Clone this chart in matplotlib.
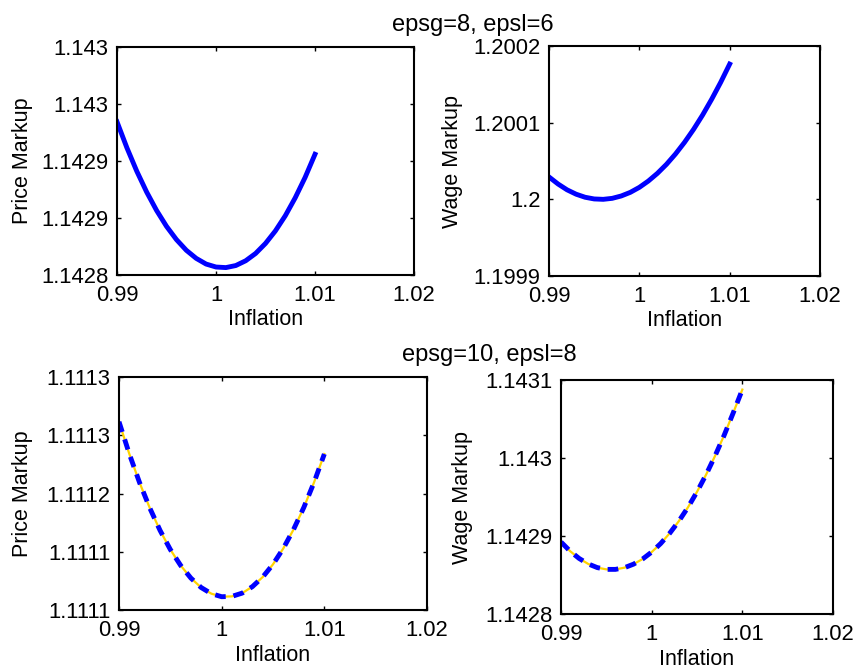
"""
markup vs inflation, two calibrations
"""
import matplotlib
matplotlib.use('Agg')
import matplotlib.pyplot as plt

plt.rcParams['font.family'] = ['Liberation Sans', 'DejaVu Sans']

# inflation grid
inflation = [0.990, 0.991, 0.992, 0.993, 0.994, 0.995, 0.996, 0.997, 0.998, 0.999, 1.000,
             1.001, 1.002, 1.003, 1.004, 1.005, 1.006, 1.007, 1.008, 1.009, 1.010]

# epsg=8, epsl=6
price_8 = [1.1429344, 1.1429116, 1.1428910, 1.1428727, 1.1428566, 1.1428427, 1.1428311,
           1.1428217, 1.1428146, 1.1428096, 1.1428070, 1.1428065, 1.1428083, 1.1428125,
           1.1428189, 1.1428277, 1.1428387, 1.1428520, 1.1428677, 1.1428856, 1.1429059]
wage_6 = [1.2000292, 1.2000200, 1.2000124, 1.2000067, 1.2000027, 1.2000005, 1.2000000,
          1.2000013, 1.2000044, 1.2000091, 1.2000156, 1.2000239, 1.2000339, 1.2000456,
          1.2000591, 1.2000743, 1.2000912, 1.2001099, 1.2001304, 1.2001525, 1.2001764]

# epsg=10, epsl=8
price_10 = [1.1112616, 1.1112341, 1.1112094, 1.1111875, 1.1111683, 1.1111519, 1.1111383,
            1.1111274, 1.1111193, 1.1111140, 1.1111114, 1.1111117, 1.1111145, 1.1111201,
            1.1111283, 1.1111392, 1.1111528, 1.1111691, 1.1111880, 1.1112096, 1.1112339]
wage_8 = [1.1428923, 1.1428806, 1.1428712, 1.1428642, 1.1428595, 1.1428572, 1.1428572,
          1.1428594, 1.1428639, 1.1428705, 1.1428794, 1.1428904, 1.1429037, 1.1429191,
          1.1429367, 1.1429566, 1.1429786, 1.1430029, 1.1430293, 1.1430580, 1.1430877]

x_ticks = [0.99, 1.00, 1.01, 1.02]
x_labels = ['0.99', '1', '1.01', '1.02']

yt_tl = [1.14280, 1.14285, 1.14290, 1.14295, 1.14300]
yl_tl = ['1.1428', '1.1429', '1.1429', '1.143', '1.143']
yt_tr = [1.1999, 1.2000, 1.2001, 1.2002]
yl_tr = ['1.1999', '1.2', '1.2001', '1.2002']
yt_bl = [1.11110, 1.11115, 1.11120, 1.11125, 1.11130]
yl_bl = ['1.1111', '1.1111', '1.1112', '1.1113', '1.1113']
yt_br = [1.1428, 1.1429, 1.1430, 1.1431]
yl_br = ['1.1428', '1.1429', '1.143', '1.1431']

W, H = 858, 670
fig = plt.figure(figsize=(W / 100, H / 100), dpi=100)


def box(l, r, t, b):
    return [l / W, (H - b) / H, (r - l) / W, (b - t) / H]


def setup(ax, yt, yl, ylabel, ylab_x):
    ax.set_xlim(0.99, 1.02)
    ax.set_ylim(yt[0], yt[-1])
    ax.set_xticks(x_ticks)
    ax.set_xticklabels(x_labels)
    ax.set_yticks(yt)
    ax.set_yticklabels(yl)
    ax.tick_params(direction='in', top=True, right=True, length=3, width=1,
                   labelsize=15.8)
    ax.tick_params(axis='x', pad=7)
    ax.tick_params(axis='y', pad=6)
    for s in ax.spines.values():
        s.set_linewidth(1.5)
    ax.set_xlabel('Inflation', fontsize=15.5)
    ax.set_ylabel(ylabel, fontsize=15.5)
    ax.xaxis.set_label_coords(0.5, -0.15)
    ax.yaxis.set_label_coords(ylab_x, 0.5)


ax1 = fig.add_axes(box(117, 414, 47, 275))
ax1.plot(inflation, price_8, color='#0000ff', lw=3.5)
setup(ax1, yt_tl, yl_tl, 'Price Markup', -0.282)

ax2 = fig.add_axes(box(549, 820, 46, 276))
ax2.plot(inflation, wage_6, color='#0000ff', lw=3.5)
setup(ax2, yt_tr, yl_tr, 'Wage Markup', -0.316)

ax3 = fig.add_axes(box(119, 427, 377, 610))
ax3.plot(inflation, price_10, color='#ffd400', lw=1.6)
ax3.plot(inflation, price_10, color='#0000ff', lw=3.5, dashes=(2.2, 1.6), dash_capstyle='butt')
setup(ax3, yt_bl, yl_bl, 'Price Markup', -0.278)

ax4 = fig.add_axes(box(561, 833, 380, 614))
ax4.plot(inflation, wage_8, color='#ffd400', lw=1.6)
ax4.plot(inflation, wage_8, color='#0000ff', lw=3.5, dashes=(2.2, 1.6), dash_capstyle='butt')
setup(ax4, yt_br, yl_br, 'Wage Markup', -0.322)

fig.text(473 / W, 1 - 31 / H, 'epsg=8, epsl=6', ha='center', va='baseline', fontsize=17)
fig.text(489 / W, 1 - 361 / H, 'epsg=10, epsl=8', ha='center', va='baseline', fontsize=17)

fig.savefig('out.png', dpi=100)
